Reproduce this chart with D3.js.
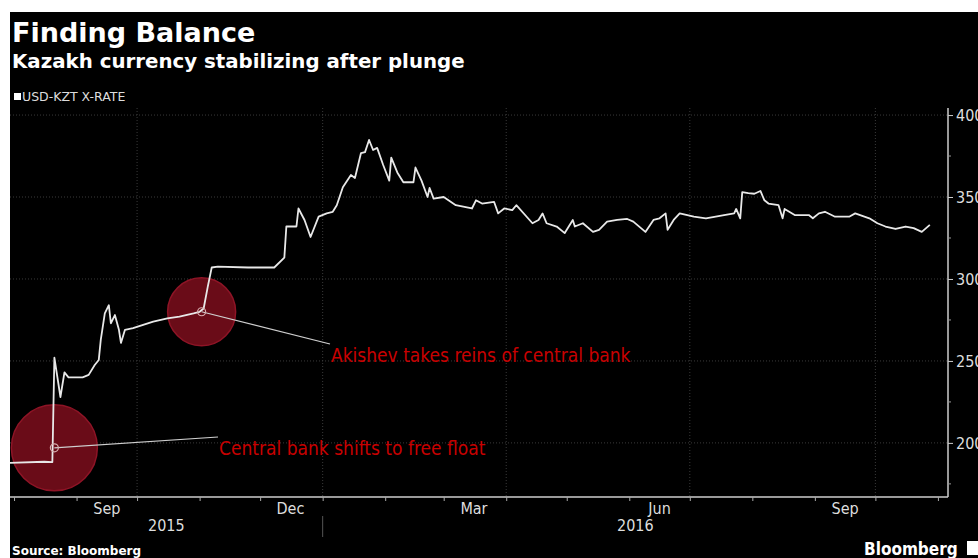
<!DOCTYPE html>
<html>
<head>
<meta charset="utf-8">
<script src="https://cdn.jsdelivr.net/npm/d3@7"></script>
<style>
  body { margin: 0; background: #fff; }
  svg { display: block; }
  .narrow { font-family: "Liberation Sans Narrow", "DejaVu Sans Condensed", sans-serif; }
</style>
</head>
<body>
<div id="chart"></div>
<script>
const width = 978;
const height = 558;
const margin = {top: 108, right: 30, bottom: 61, left: 10};

// USD-KZT readings
const dates = [
  "2015-07-30", "2015-08-16", "2015-08-20", "2015-08-21", "2015-08-24", "2015-08-26", "2015-08-28",
  "2015-09-04", "2015-09-07", "2015-09-10", "2015-09-12", "2015-09-13", "2015-09-15", "2015-09-17",
  "2015-09-18", "2015-09-20", "2015-09-22", "2015-09-23", "2015-09-25", "2015-09-29", "2015-10-04",
  "2015-10-09", "2015-10-16", "2015-10-22", "2015-10-29", "2015-11-01", "2015-11-03", "2015-11-05",
  "2015-11-07", "2015-11-10", "2015-11-25", "2015-12-08", "2015-12-13", "2015-12-14", "2015-12-19",
  "2015-12-20", "2015-12-23", "2015-12-26", "2015-12-30", "2016-01-03", "2016-01-06", "2016-01-08",
  "2016-01-11", "2016-01-15", "2016-01-17", "2016-01-20", "2016-01-22", "2016-01-24", "2016-01-26",
  "2016-01-28", "2016-01-31", "2016-02-03", "2016-02-04", "2016-02-07", "2016-02-10", "2016-02-15",
  "2016-02-16", "2016-02-19", "2016-02-22", "2016-02-23", "2016-02-25", "2016-03-01", "2016-03-07",
  "2016-03-15", "2016-03-17", "2016-03-20", "2016-03-26", "2016-03-28", "2016-03-31", "2016-04-04",
  "2016-04-06", "2016-04-14", "2016-04-17", "2016-04-19", "2016-04-21", "2016-04-26", "2016-04-30",
  "2016-05-04", "2016-05-05", "2016-05-09", "2016-05-14", "2016-05-17", "2016-05-21", "2016-05-26",
  "2016-05-31", "2016-06-03", "2016-06-09", "2016-06-13", "2016-06-16", "2016-06-19", "2016-06-20",
  "2016-06-23", "2016-06-26", "2016-07-03", "2016-07-09", "2016-07-18", "2016-07-23", "2016-07-24",
  "2016-07-26", "2016-07-27", "2016-07-30", "2016-08-02", "2016-08-05", "2016-08-07", "2016-08-09",
  "2016-08-14", "2016-08-16", "2016-08-17", "2016-08-22", "2016-08-29", "2016-08-31", "2016-09-03",
  "2016-09-06", "2016-09-11", "2016-09-18", "2016-09-21", "2016-09-28", "2016-10-02", "2016-10-06",
  "2016-10-11", "2016-10-16", "2016-10-20", "2016-10-24", "2016-10-28"
];
const rates = [
  187.8, 188.5, 188.3, 252, 228, 243, 240,
  240, 241.5, 247.5, 250.6, 262.8, 279, 284,
  273, 278, 269, 261, 269, 270, 272,
  274, 276, 277, 279, 280, 282, 295,
  307, 307.5, 307, 307, 313, 332, 332,
  343, 336, 325.6, 338, 340, 341, 345,
  356, 363.4, 361.6, 376.8, 377.4, 384.8, 378.7,
  380, 369.5, 360, 374, 365, 359, 359,
  368, 360, 350, 355.5, 349, 350, 345,
  343, 348, 346, 347, 340, 343, 342,
  345, 334, 336, 340, 334, 332, 328,
  336, 332, 334, 328.7, 330, 335, 336,
  336.6, 335, 328.7, 336, 337, 340, 330,
  336, 340, 338, 337, 339, 340, 342.7,
  337, 353, 352.4, 352, 353.7, 348, 346,
  345, 337, 342.7, 339, 339, 337, 340,
  341, 338, 338, 340, 337, 334, 332,
  330.5, 332, 331, 328.7, 333
];

const yTicks = [200, 250, 300, 350, 400];
const yMinorTicks = [175, 225, 275, 325, 375];
const monthLabels = [
  {date: "2015-09-16", label: "Sep"},
  {date: "2015-12-16", label: "Dec"},
  {date: "2016-03-16", label: "Mar"},
  {date: "2016-06-16", label: "Jun"},
  {date: "2016-09-16", label: "Sep"}
];
const years = ["2015", "2016"];
const annotations = [
  {date: "2015-08-20", value: 197, r: 43, labelAt: [218, 437], text: "Central bank shifts to free float"},
  {date: "2015-11-01", value: 280, r: 34, labelAt: [330, 344], text: "Akishev takes reins of central bank"}
];

const parse = d3.timeParse("%Y-%m-%d");
const series = dates.map((d, i) => ({date: parse(d), value: rates[i]}));

const svg = d3.select("#chart").append("svg")
  .attr("width", width)
  .attr("height", height);

svg.append("rect")
  .attr("x", 10).attr("y", 12)
  .attr("width", width - 10).attr("height", height - 12)
  .attr("fill", "#000");

const x = d3.scaleTime()
  .domain([parse("2015-07-30"), parse("2016-11-06")])
  .range([margin.left, width - margin.right]);
const y = d3.scaleLinear()
  .domain([167, 404.3])
  .range([height - margin.bottom, margin.top]);

const plotLeft = margin.left, plotRight = width - margin.right;
const plotTop = margin.top, plotBottom = height - margin.bottom;

// titles
svg.append("text")
  .attr("x", 12).attr("y", 42)
  .attr("fill", "#fff")
  .style("font-family", "DejaVu Sans, sans-serif")
  .style("font-weight", "bold")
  .style("font-size", "27px")
  .text("Finding Balance");
svg.append("text")
  .attr("x", 12).attr("y", 68)
  .attr("fill", "#fff")
  .style("font-family", "DejaVu Sans, sans-serif")
  .style("font-weight", "bold")
  .style("font-size", "19.8px")
  .text("Kazakh currency stabilizing after plunge");

// legend
svg.append("rect")
  .attr("x", 14).attr("y", 93).attr("width", 7).attr("height", 7)
  .attr("fill", "#fff");
svg.append("text")
  .attr("x", 22).attr("y", 100.5)
  .attr("fill", "#ddd")
  .style("font-family", "DejaVu Sans, sans-serif")
  .style("font-size", "12.5px")
  .text("USD-KZT X-RATE");

// grid
svg.append("g")
  .selectAll("line")
  .data(yTicks)
  .join("line")
  .attr("x1", plotLeft).attr("x2", plotRight)
  .attr("y1", d => y(d)).attr("y2", d => y(d))
  .attr("stroke", "#3a3a3a")
  .attr("stroke-dasharray", "1,2");
svg.append("g")
  .selectAll("line")
  .data(d3.timeMonth.every(3).range(parse("2015-08-01"), parse("2016-11-01")))
  .join("line")
  .attr("x1", d => x(d)).attr("x2", d => x(d))
  .attr("y1", plotTop).attr("y2", plotBottom)
  .attr("stroke", "#3a3a3a")
  .attr("stroke-dasharray", "1,2");

// annotation circles (under the line)
const ann = svg.append("g");
annotations.forEach(a => {
  const cx = x(parse(a.date)) + 2, cy = y(a.value);
  ann.append("circle")
    .attr("cx", cx).attr("cy", cy).attr("r", a.r)
    .attr("fill", "#6a0c18")
    .attr("stroke", "#8e1426")
    .attr("stroke-width", 1.5);
});

// line
svg.append("path")
  .datum(series)
  .attr("fill", "none")
  .attr("stroke", "#e8e8e8")
  .attr("stroke-width", 1.8)
  .attr("stroke-linejoin", "round")
  .attr("d", d3.line().x(d => x(d.date)).y(d => y(d.value)));

// annotation leaders and text
const ann2 = svg.append("g");
annotations.forEach(a => {
  const cx = x(parse(a.date)) + 2, cy = y(a.value);
  ann2.append("line")
    .attr("x1", cx).attr("y1", cy)
    .attr("x2", a.labelAt[0]).attr("y2", a.labelAt[1])
    .attr("stroke", "#cfcfcf")
    .attr("stroke-width", 1.2);
  ann2.append("circle")
    .attr("cx", cx).attr("cy", cy).attr("r", 4)
    .attr("fill", "none")
    .attr("stroke", "#d8b0b0")
    .attr("stroke-width", 1.2);
  ann2.append("text")
    .attr("class", "narrow")
    .attr("x", a.labelAt[0] + 1).attr("y", a.labelAt[1] + 18)
    .attr("fill", "#c80000")
    .style("font-size", "19px")
    .text(a.text);
});

// right axis
const yAxis = svg.append("g")
  .attr("transform", `translate(${plotRight},0)`)
  .call(d3.axisRight(y).tickValues(yTicks).tickSize(5).tickPadding(3));
yAxis.select(".domain").attr("stroke", "#ccc").attr("stroke-width", 1.5)
  .attr("d", `M0,${plotTop}V${plotBottom}`);
yAxis.selectAll(".tick line").attr("stroke", "#ccc");
yAxis.selectAll(".tick text")
  .attr("class", "narrow")
  .attr("fill", "#ddd")
  .style("font-size", "16px");
svg.append("g")
  .selectAll("line")
  .data(yMinorTicks)
  .join("line")
  .attr("x1", plotRight).attr("x2", plotRight + 3)
  .attr("y1", d => y(d)).attr("y2", d => y(d))
  .attr("stroke", "#999");

// bottom axis
const xAxis = svg.append("g")
  .attr("transform", `translate(0,${plotBottom})`)
  .call(d3.axisBottom(x).ticks(d3.timeMonth.every(1)).tickSize(4).tickFormat(""));
xAxis.select(".domain").attr("stroke", "#ccc").attr("stroke-width", 1.5)
  .attr("d", `M${plotLeft},0H${plotRight}`);
xAxis.selectAll(".tick line").attr("stroke", "#aaa");

svg.append("g")
  .selectAll("text")
  .data(monthLabels)
  .join("text")
  .attr("class", "narrow")
  .attr("x", d => x(parse(d.date)))
  .attr("y", 514)
  .attr("text-anchor", "middle")
  .attr("fill", "#ddd")
  .style("font-size", "16px")
  .text(d => d.label);

// year labels centred on the visible part of each year
const [d0, d1] = x.domain();
svg.append("g")
  .selectAll("text")
  .data(years)
  .join("text")
  .attr("class", "narrow")
  .attr("x", yr => {
    const a = Math.max(+parse(yr + "-01-01"), +d0);
    const b = Math.min(+parse((+yr + 1) + "-01-01"), +d1);
    return (x(new Date(a)) + x(new Date(b))) / 2;
  })
  .attr("y", 531)
  .attr("text-anchor", "middle")
  .attr("fill", "#ddd")
  .style("font-size", "16px")
  .text(yr => yr);
svg.append("line")
  .attr("x1", x(parse("2016-01-01"))).attr("x2", x(parse("2016-01-01")))
  .attr("y1", 516).attr("y2", 537)
  .attr("stroke", "#555");

// footer
svg.append("text")
  .attr("x", 12).attr("y", 555)
  .attr("fill", "#fff")
  .style("font-family", "DejaVu Sans, sans-serif")
  .style("font-weight", "bold")
  .style("font-size", "12px")
  .text("Source: Bloomberg");
svg.append("text")
  .attr("class", "narrow")
  .attr("x", 864).attr("y", 555)
  .attr("fill", "#fff")
  .style("font-weight", "bold")
  .style("font-size", "17px")
  .text("Bloomberg");
svg.append("rect")
  .attr("x", 967).attr("y", 541).attr("width", 14).attr("height", 14)
  .attr("fill", "#fff");
</script>
</body>
</html>
